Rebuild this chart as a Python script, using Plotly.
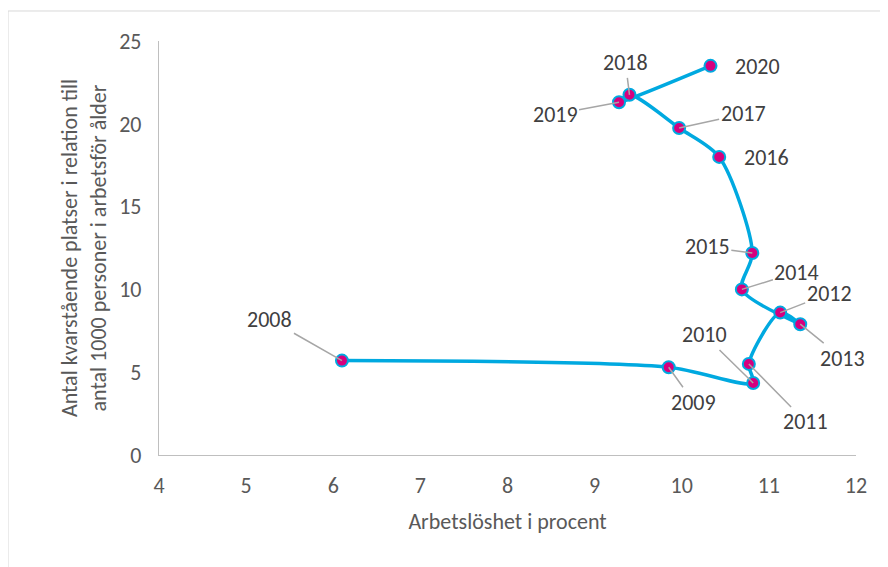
import plotly.graph_objects as go

# Data
years = [2008, 2009, 2010, 2011, 2012, 2013, 2014, 2015, 2016, 2017, 2018, 2019, 2020]
unemployment = [6.1, 9.85, 10.82, 10.77, 11.13, 11.36, 10.69, 10.81, 10.43, 9.97, 9.40, 9.28, 10.33]
vacancies = [5.7, 5.3, 4.35, 5.5, 8.6, 7.9, 10.0, 12.2, 18.0, 19.75, 21.75, 21.3, 23.5]

x_ticks = [4, 5, 6, 7, 8, 9, 10, 11, 12]
y_ticks = [0, 5, 10, 15, 20, 25]

# label placement in pixels (text centre relative to point) and whether a leader line is drawn
label_offsets = {
    2008: (-72, -41, True), 2009: (25, 35, True), 2010: (-49, -48, True),
    2011: (57, 58, True), 2012: (49, -19, True), 2013: (42, 34, True),
    2014: (55, -17, True), 2015: (-45, -6, True), 2016: (47, 1, False),
    2017: (64, -14, True), 2018: (-4, -32, True), 2019: (-64, 12, True),
    2020: (47, 1, False),
}

FONT = "Calibri, Carlito, 'Noto Sans', sans-serif"
TEXT = "#595959"

fig = go.Figure()
fig.add_trace(go.Scatter(
    x=unemployment, y=vacancies, mode="lines+markers",
    line=dict(color="#00A9E0", width=3.5, shape="spline", smoothing=0.8),
    marker=dict(size=12, color="#D6007E", line=dict(color="#00A9E0", width=2)),
    hoverinfo="x+y", showlegend=False,
))

for yr, xv, yv in zip(years, unemployment, vacancies):
    dx, dy, leader = label_offsets[yr]
    if leader:
        fig.add_annotation(x=xv, y=yv, text=str(yr), showarrow=True,
                           ax=dx, ay=dy, arrowhead=0, arrowwidth=1.5,
                           arrowcolor="#A6A6A6", standoff=0,
                           font=dict(family=FONT, size=22, color="#404040"))
    else:
        fig.add_annotation(x=xv, y=yv, text=str(yr), showarrow=False,
                           xshift=dx, yshift=-dy,
                           font=dict(family=FONT, size=22, color="#404040"))

# outer chart border
fig.add_shape(type="rect", xref="paper", yref="paper",
              x0=-0.2166, x1=1.0402, y0=-0.29, y1=1.0725,
              line=dict(color="#D9D9D9", width=1), layer="below")

fig.update_layout(
    width=888, height=567,
    margin=dict(l=151, r=40, t=33, b=120),
    paper_bgcolor="white", plot_bgcolor="white",
    font=dict(family=FONT, size=22, color=TEXT),
    xaxis=dict(range=[4, 12], tickvals=x_ticks, showgrid=False, zeroline=False,
               showline=True, linecolor="#BFBFBF", linewidth=1.3, ticks="",
               ticklabelstandoff=10,
               title=dict(text="Arbetslöshet i procent", font=dict(size=22, color=TEXT), standoff=16)),
    yaxis=dict(range=[0, 25], tickvals=y_ticks, showgrid=False, zeroline=False,
               showline=True, linecolor="#BFBFBF", linewidth=1.3, ticks="",
               ticklabelstandoff=12,
               title=dict(text="Antal kvarstående platser i relation till<br>antal 1000 personer i arbetsför ålder",
                          font=dict(size=22, color=TEXT), standoff=6)),
)

fig.write_html("out.html")
